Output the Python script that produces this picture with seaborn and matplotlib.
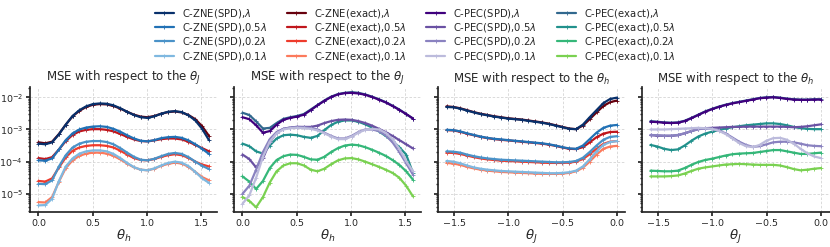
import numpy as np
import pandas as pd
import matplotlib
matplotlib.use("Agg")
import matplotlib.pyplot as plt
import seaborn as sns

# sampling grid of the two angles
theta_h = np.linspace(0, np.pi / 2, 26)
theta_j = np.linspace(-np.pi / 2, 0, 26)

scales = ["$\\lambda$", "0.5$\\lambda$", "0.2$\\lambda$", "0.1$\\lambda$"]

# log10(MSE), panel 1 : ZNE vs theta_h
p1_zne_spd = [
    [-3.44, -3.46, -3.40, -3.15, -2.85, -2.58, -2.40, -2.28, -2.21, -2.19, -2.20, -2.25, -2.34,
     -2.45, -2.55, -2.62, -2.64, -2.59, -2.51, -2.45, -2.43, -2.46, -2.56, -2.72, -2.98, -3.33],
    [-3.96, -3.97, -3.90, -3.62, -3.33, -3.12, -3.00, -2.94, -2.91, -2.90, -2.92, -2.98, -3.07,
     -3.18, -3.28, -3.35, -3.37, -3.33, -3.27, -3.24, -3.23, -3.26, -3.34, -3.46, -3.60, -3.76],
    [-4.69, -4.70, -4.58, -4.15, -3.80, -3.56, -3.44, -3.38, -3.36, -3.36, -3.39, -3.46, -3.58,
     -3.72, -3.85, -3.94, -3.96, -3.91, -3.83, -3.76, -3.73, -3.76, -3.86, -4.00, -4.13, -4.23],
    [-5.36, -5.35, -5.15, -4.60, -4.15, -3.90, -3.75, -3.68, -3.65, -3.65, -3.68, -3.76, -3.89,
     -4.04, -4.17, -4.25, -4.27, -4.21, -4.12, -4.04, -4.00, -4.03, -4.14, -4.32, -4.52, -4.66],
]
p1_zne_exact = [
    [-3.40, -3.43, -3.38, -3.14, -2.85, -2.59, -2.42, -2.30, -2.23, -2.21, -2.22, -2.27, -2.35,
     -2.45, -2.54, -2.60, -2.62, -2.58, -2.51, -2.46, -2.44, -2.47, -2.55, -2.68, -2.90, -3.20],
    [-3.89, -3.92, -3.86, -3.62, -3.36, -3.17, -3.06, -3.01, -2.99, -2.99, -3.01, -3.06, -3.14,
     -3.23, -3.31, -3.36, -3.37, -3.34, -3.30, -3.28, -3.28, -3.31, -3.38, -3.48, -3.58, -3.68],
    [-4.60, -4.62, -4.52, -4.18, -3.87, -3.66, -3.56, -3.51, -3.49, -3.49, -3.51, -3.56, -3.66,
     -3.78, -3.89, -3.95, -3.96, -3.92, -3.85, -3.80, -3.77, -3.80, -3.88, -4.00, -4.09, -4.15],
    [-5.26, -5.27, -5.10, -4.62, -4.20, -3.96, -3.82, -3.75, -3.72, -3.72, -3.75, -3.82, -3.93,
     -4.06, -4.18, -4.25, -4.27, -4.22, -4.13, -4.07, -4.03, -4.06, -4.16, -4.32, -4.48, -4.58],
]

# panel 2 : PEC vs theta_h
p2_pec_spd = [
    [-2.62, -2.68, -2.87, -3.10, -3.05, -2.85, -2.70, -2.64, -2.60, -2.54, -2.40, -2.25, -2.11,
     -1.99, -1.91, -1.87, -1.86, -1.88, -1.92, -1.99, -2.07, -2.16, -2.27, -2.39, -2.52, -2.66],
    [-3.78, -3.92, -4.18, -3.90, -3.40, -3.10, -2.98, -2.94, -2.92, -2.92, -2.92, -2.88, -2.80,
     -2.74, -2.70, -2.69, -2.70, -2.74, -2.80, -2.88, -2.98, -3.08, -3.20, -3.33, -3.46, -3.59],
    [-5.00, -4.75, -4.25, -3.70, -3.30, -3.08, -2.98, -2.94, -2.92, -2.93, -2.95, -3.00, -3.10,
     -3.20, -3.28, -3.28, -3.20, -3.08, -3.00, -3.00, -3.05, -3.18, -3.40, -3.70, -4.05, -4.40],
    [-5.31, -5.05, -4.50, -3.85, -3.38, -3.12, -3.00, -2.96, -2.95, -2.96, -2.98, -3.03, -3.12,
     -3.22, -3.30, -3.30, -3.22, -3.10, -3.01, -2.98, -3.00, -3.10, -3.30, -3.60, -3.98, -4.30],
]
p2_pec_exact = [
    [-2.48, -2.55, -2.75, -2.97, -2.95, -2.80, -2.67, -2.62, -2.58, -2.52, -2.38, -2.24, -2.10,
     -1.98, -1.90, -1.86, -1.84, -1.86, -1.91, -1.98, -2.06, -2.15, -2.26, -2.38, -2.52, -2.66],
    [-3.44, -3.52, -3.68, -3.75, -3.50, -3.28, -3.18, -3.16, -3.18, -3.23, -3.26, -3.20, -3.02,
     -2.86, -2.76, -2.72, -2.72, -2.76, -2.84, -2.94, -3.06, -3.20, -3.36, -3.55, -3.78, -4.35],
    [-4.46, -4.62, -4.85, -4.60, -4.20, -3.95, -3.83, -3.78, -3.79, -3.85, -3.93, -3.94, -3.85,
     -3.70, -3.58, -3.50, -3.47, -3.49, -3.55, -3.63, -3.72, -3.82, -3.95, -4.10, -4.30, -4.56],
    [-5.10, -5.22, -5.42, -5.10, -4.65, -4.30, -4.12, -4.05, -4.05, -4.12, -4.25, -4.30, -4.22,
     -4.08, -3.96, -3.90, -3.89, -3.93, -4.00, -4.08, -4.16, -4.25, -4.35, -4.50, -4.75, -5.08],
]

# panel 3 : ZNE vs theta_j
p3_zne_spd = [
    [-2.30, -2.31, -2.35, -2.41, -2.47, -2.52, -2.56, -2.60, -2.63, -2.66, -2.68, -2.70, -2.73,
     -2.76, -2.79, -2.83, -2.88, -2.93, -2.98, -2.99, -2.85, -2.62, -2.40, -2.18, -2.05, -2.01],
    [-3.01, -3.02, -3.06, -3.12, -3.17, -3.22, -3.26, -3.29, -3.31, -3.33, -3.35, -3.37, -3.39,
     -3.41, -3.43, -3.46, -3.50, -3.55, -3.59, -3.60, -3.50, -3.30, -3.10, -2.95, -2.88, -2.86],
    [-3.68, -3.69, -3.72, -3.78, -3.83, -3.87, -3.90, -3.92, -3.94, -3.95, -3.96, -3.97, -3.98,
     -3.99, -4.00, -4.01, -4.02, -4.02, -4.01, -3.98, -3.88, -3.70, -3.50, -3.32, -3.23, -3.21],
    [-3.98, -4.00, -4.05, -4.12, -4.18, -4.22, -4.25, -4.27, -4.29, -4.30, -4.31, -4.32, -4.33,
     -4.34, -4.35, -4.36, -4.36, -4.35, -4.33, -4.28, -4.15, -3.93, -3.68, -3.48, -3.39, -3.36],
]
p3_zne_exact = [
    [-2.28, -2.30, -2.34, -2.40, -2.46, -2.51, -2.55, -2.59, -2.62, -2.65, -2.67, -2.69, -2.72,
     -2.75, -2.78, -2.82, -2.87, -2.92, -2.97, -2.99, -2.88, -2.68, -2.47, -2.27, -2.15, -2.10],
    [-3.02, -3.03, -3.07, -3.13, -3.18, -3.23, -3.27, -3.30, -3.32, -3.34, -3.36, -3.38, -3.40,
     -3.42, -3.44, -3.47, -3.51, -3.56, -3.60, -3.61, -3.55, -3.40, -3.24, -3.13, -3.08, -3.07],
    [-3.72, -3.73, -3.76, -3.81, -3.86, -3.90, -3.93, -3.95, -3.97, -3.98, -3.99, -4.00, -4.01,
     -4.02, -4.03, -4.04, -4.04, -4.04, -4.03, -4.00, -3.92, -3.77, -3.60, -3.45, -3.38, -3.36],
    [-4.04, -4.06, -4.10, -4.16, -4.21, -4.25, -4.28, -4.30, -4.32, -4.33, -4.34, -4.35, -4.36,
     -4.37, -4.38, -4.38, -4.38, -4.37, -4.35, -4.30, -4.19, -4.00, -3.78, -3.60, -3.53, -3.51],
]

# panel 4 : PEC vs theta_j
p4_pec_spd = [
    [-2.76, -2.77, -2.79, -2.80, -2.79, -2.74, -2.65, -2.55, -2.45, -2.37, -2.30, -2.24, -2.19,
     -2.15, -2.11, -2.07, -2.03, -2.01, -2.00, -2.02, -2.05, -2.07, -2.08, -2.08, -2.07, -2.07],
    [-3.18, -3.19, -3.20, -3.20, -3.18, -3.12, -3.05, -2.99, -2.96, -2.95, -2.94, -2.93, -2.92,
     -2.92, -2.91, -2.91, -2.91, -2.91, -2.91, -2.91, -2.92, -2.93, -2.92, -2.90, -2.87, -2.84],
    [-3.17, -3.18, -3.19, -3.19, -3.17, -3.12, -3.05, -2.99, -2.97, -2.98, -3.03, -3.12, -3.25,
     -3.38, -3.48, -3.54, -3.52, -3.46, -3.40, -3.38, -3.38, -3.40, -3.44, -3.49, -3.51, -3.52],
    [-3.00, -3.00, -3.00, -2.99, -2.98, -2.97, -2.96, -2.95, -2.96, -2.98, -3.04, -3.14, -3.28,
     -3.42, -3.52, -3.55, -3.48, -3.35, -3.27, -3.26, -3.32, -3.44, -3.60, -3.74, -3.84, -3.89],
]
p4_pec_exact = [
    [-2.74, -2.76, -2.78, -2.79, -2.78, -2.73, -2.64, -2.54, -2.44, -2.36, -2.29, -2.23, -2.18,
     -2.14, -2.10, -2.06, -2.02, -2.00, -1.99, -2.01, -2.04, -2.06, -2.07, -2.07, -2.06, -2.06],
    [-3.48, -3.53, -3.60, -3.64, -3.62, -3.50, -3.35, -3.22, -3.13, -3.07, -3.02, -2.97, -2.93,
     -2.90, -2.87, -2.85, -2.83, -2.81, -2.81, -2.83, -2.87, -2.92, -2.96, -2.98, -2.99, -2.99],
    [-4.28, -4.29, -4.30, -4.30, -4.28, -4.20, -4.10, -4.01, -3.95, -3.91, -3.86, -3.81, -3.77,
     -3.75, -3.74, -3.73, -3.70, -3.67, -3.64, -3.64, -3.68, -3.72, -3.76, -3.76, -3.74, -3.72],
    [-4.46, -4.46, -4.46, -4.45, -4.43, -4.37, -4.29, -4.22, -4.18, -4.15, -4.12, -4.09, -4.08,
     -4.07, -4.08, -4.09, -4.10, -4.10, -4.10, -4.12, -4.17, -4.23, -4.27, -4.25, -4.22, -4.20],
]

col_zne_spd = ["#08306b", "#2171b5", "#4a92c8", "#7fb8e0"]
col_zne_exact = ["#67000d", "#c0161c", "#ee3b2c", "#fc7a5c"]
col_pec_spd = ["#3f007d", "#6a51a3", "#8a82c0", "#bcbbdc"]
col_pec_exact = ["#31688e", "#21918c", "#35b779", "#7ad151"]

sns.set_theme(style="ticks")
plt.rcParams["font.family"] = ["DejaVu Sans"]
plt.rcParams["mathtext.fontset"] = "dejavusans"

fig, axes = plt.subplots(1, 4, figsize=(8.3, 2.47), dpi=100, sharey=True)
fig.subplots_adjust(left=0.0361, right=0.9994, bottom=0.1405, top=0.6466, wspace=0.088)

panels = [
    (axes[0], theta_h, p1_zne_spd, p1_zne_exact, col_zne_spd, col_zne_exact, "C-ZNE",
     "MSE with respect to the $\\theta_J$", "$\\theta_h$"),
    (axes[1], theta_h, p2_pec_spd, p2_pec_exact, col_pec_spd, col_pec_exact, "C-PEC",
     "MSE with respect to the $\\theta_J$", "$\\theta_h$"),
    (axes[2], theta_j, p3_zne_spd, p3_zne_exact, col_zne_spd, col_zne_exact, "C-ZNE",
     "MSE with respect to the $\\theta_h$", "$\\theta_J$"),
    (axes[3], theta_j, p4_pec_spd, p4_pec_exact, col_pec_spd, col_pec_exact, "C-PEC",
     "MSE with respect to the $\\theta_h$", "$\\theta_J$"),
]

handles = {}
for ax, xs, spd, exact, c_spd, c_ex, name, title, xlab in panels:
    for k in range(4):
        for kind, vals, cols in (("exact", exact, c_ex), ("SPD", spd, c_spd)):
            lab = f"{name}({kind}),{scales[k]}"
            sns.lineplot(x=xs, y=10.0 ** np.array(vals[k]), ax=ax, color=cols[k],
                         marker="+", markersize=2.5, markeredgewidth=0.6,
                         markeredgecolor=cols[k], linewidth=1.6, label=lab)
    h, l = ax.get_legend_handles_labels()
    for hh, ll in zip(h, l):
        handles.setdefault(ll, hh)
    if ax.get_legend() is not None:
        ax.get_legend().remove()
    ax.set_yscale("log")
    ax.set_title(title, fontsize=8.5, pad=4)
    ax.set_xlabel(xlab, fontsize=9.5, labelpad=0)
    ax.set_ylabel("")
    ax.grid(True, which="major", color="#d4d4d4", linestyle=(0, (3, 2)), linewidth=0.6)
    ax.tick_params(axis="both", which="major", labelsize=6.8, length=3, pad=2)
    ax.tick_params(axis="y", which="minor", length=1.8)
    sns.despine(ax=ax)

axes[0].set_ylim(2.66e-6, 2.05e-2)
axes[0].set_xticks([0.0, 0.5, 1.0, 1.5])
axes[1].set_xticks([0.0, 0.5, 1.0, 1.5])
axes[2].set_xticks([-1.5, -1.0, -0.5, 0.0])
axes[3].set_xticks([-1.5, -1.0, -0.5, 0.0])

order = []
for name in ("C-ZNE", "C-PEC"):
    for kind in ("SPD", "exact"):
        for s in scales:
            order.append(f"{name}({kind}),{s}")
fig.legend([handles[o] for o in order], order, loc="upper center",
           bbox_to_anchor=(0.5, 1.0), ncol=4, frameon=False, fontsize=7.2,
           handlelength=1.9, handletextpad=0.8, labelspacing=0.12, columnspacing=2.0,
           borderaxespad=0.3)

fig.savefig("out.png", dpi=100)
